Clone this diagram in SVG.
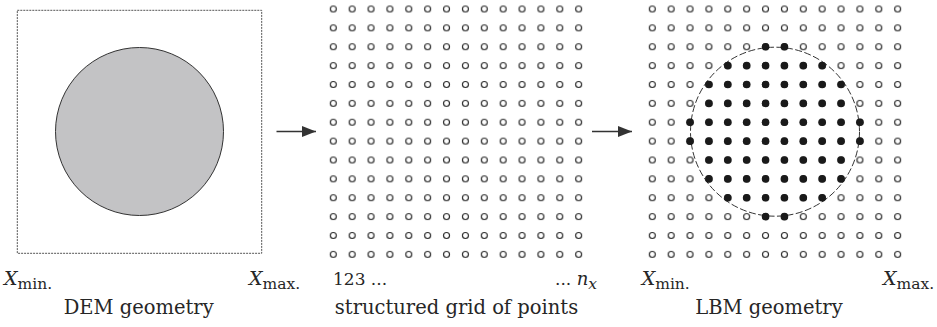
<svg xmlns="http://www.w3.org/2000/svg" width="937" height="327" viewBox="0 0 937 327">
  <style>
    .lbl { font-family: "DejaVu Serif", "Liberation Serif", serif; fill: #262626; }
    .cap { font-size: 19.5px; text-anchor: middle; }
    .sym { font-size: 19px; }
    .sub { font-size: 15.5px; }
    .it { font-style: italic; }
    .box { fill: none; stroke: #555; stroke-width: 1; stroke-dasharray: 2 1; }
    .solid { fill: #c3c3c5; stroke: #333; stroke-width: 1; }
    .bound { fill: none; stroke: #333; stroke-width: 1; stroke-dasharray: 7 2.5; }
    .full { fill: #1a1a1a; }
    .link { stroke: #333; stroke-width: 1.4; fill: none; }
  </style>
  <defs>
    <!-- one lattice cell: an open node at its centre -->
    <pattern id="lattice" patternUnits="userSpaceOnUse" x="0" y="0" width="18.875" height="18.875">
      <circle cx="9.4375" cy="9.4375" r="3" fill="#fff" stroke="#2a2a2a" stroke-width="1.15"/>
    </pattern>
    <marker id="head" markerWidth="15" markerHeight="12" refX="14" refY="6" orient="auto" markerUnits="userSpaceOnUse">
      <path d="M0,0.5 L14,6 L0,11.5 Z" fill="#333"/>
    </marker>
    <circle id="fd" r="3.8" class="full"/>
  </defs>

  <!-- DEM geometry: domain box with the particle -->
  <g id="dem">
    <rect class="box" x="17.3" y="10.3" width="244.4" height="243"/>
    <circle class="solid" cx="139.5" cy="131.5" r="84"/>
    <text class="lbl sym" x="4" y="285"><tspan class="it">X</tspan><tspan class="sub" dy="4">min.</tspan></text>
    <text class="lbl sym" x="249" y="285"><tspan class="it">X</tspan><tspan class="sub" dy="4">max.</tspan></text>
    <text class="lbl cap" x="138.7" y="314">DEM geometry</text>
  </g>

  <!-- structured grid: 14 x 14 lattice nodes -->
  <g id="grid">
    <g transform="translate(323.86,-0.44)">
      <rect width="264.25" height="264.25" fill="url(#lattice)"/>
    </g>
    <text class="lbl" x="333" y="285" font-size="17">123 ...</text>
    <text class="lbl" x="597" y="285" text-anchor="end" font-size="17">... <tspan class="it" font-size="18">n</tspan><tspan class="sub it" dy="4">x</tspan></text>
    <text class="lbl cap" x="456.5" y="314">structured grid of points</text>
  </g>

  <!-- LBM geometry: lattice with solid nodes inside the particle boundary -->
  <g id="lbm">
    <g transform="translate(642.86,-0.44)">
      <rect width="264.25" height="264.25" fill="url(#lattice)"/>
    </g>
    <circle class="bound" cx="775" cy="131.7" r="84.5"/>
    <g transform="translate(652.3,9)">
      <!-- row 2 -->
      <use href="#fd" x="113.25" y="37.75"/><use href="#fd" x="132.125" y="37.75"/>
      <!-- row 3 -->
      <use href="#fd" x="75.5" y="56.625"/><use href="#fd" x="94.375" y="56.625"/><use href="#fd" x="113.25" y="56.625"/><use href="#fd" x="132.125" y="56.625"/><use href="#fd" x="151" y="56.625"/><use href="#fd" x="169.875" y="56.625"/>
      <!-- row 4 -->
      <use href="#fd" x="56.625" y="75.5"/><use href="#fd" x="75.5" y="75.5"/><use href="#fd" x="94.375" y="75.5"/><use href="#fd" x="113.25" y="75.5"/><use href="#fd" x="132.125" y="75.5"/><use href="#fd" x="151" y="75.5"/><use href="#fd" x="169.875" y="75.5"/><use href="#fd" x="188.75" y="75.5"/>
      <!-- row 5 -->
      <use href="#fd" x="56.625" y="94.375"/><use href="#fd" x="75.5" y="94.375"/><use href="#fd" x="94.375" y="94.375"/><use href="#fd" x="113.25" y="94.375"/><use href="#fd" x="132.125" y="94.375"/><use href="#fd" x="151" y="94.375"/><use href="#fd" x="169.875" y="94.375"/><use href="#fd" x="188.75" y="94.375"/>
      <!-- row 6 -->
      <use href="#fd" x="37.75" y="113.25"/><use href="#fd" x="56.625" y="113.25"/><use href="#fd" x="75.5" y="113.25"/><use href="#fd" x="94.375" y="113.25"/><use href="#fd" x="113.25" y="113.25"/><use href="#fd" x="132.125" y="113.25"/><use href="#fd" x="151" y="113.25"/><use href="#fd" x="169.875" y="113.25"/><use href="#fd" x="188.75" y="113.25"/><use href="#fd" x="207.625" y="113.25"/>
      <!-- row 7 -->
      <use href="#fd" x="37.75" y="132.125"/><use href="#fd" x="56.625" y="132.125"/><use href="#fd" x="75.5" y="132.125"/><use href="#fd" x="94.375" y="132.125"/><use href="#fd" x="113.25" y="132.125"/><use href="#fd" x="132.125" y="132.125"/><use href="#fd" x="151" y="132.125"/><use href="#fd" x="169.875" y="132.125"/><use href="#fd" x="188.75" y="132.125"/><use href="#fd" x="207.625" y="132.125"/>
      <!-- row 8 -->
      <use href="#fd" x="56.625" y="151"/><use href="#fd" x="75.5" y="151"/><use href="#fd" x="94.375" y="151"/><use href="#fd" x="113.25" y="151"/><use href="#fd" x="132.125" y="151"/><use href="#fd" x="151" y="151"/><use href="#fd" x="169.875" y="151"/><use href="#fd" x="188.75" y="151"/>
      <!-- row 9 -->
      <use href="#fd" x="56.625" y="169.875"/><use href="#fd" x="75.5" y="169.875"/><use href="#fd" x="94.375" y="169.875"/><use href="#fd" x="113.25" y="169.875"/><use href="#fd" x="132.125" y="169.875"/><use href="#fd" x="151" y="169.875"/><use href="#fd" x="169.875" y="169.875"/><use href="#fd" x="188.75" y="169.875"/>
      <!-- row 10 -->
      <use href="#fd" x="75.5" y="188.75"/><use href="#fd" x="94.375" y="188.75"/><use href="#fd" x="113.25" y="188.75"/><use href="#fd" x="132.125" y="188.75"/><use href="#fd" x="151" y="188.75"/><use href="#fd" x="169.875" y="188.75"/>
      <!-- row 11 -->
      <use href="#fd" x="113.25" y="207.625"/><use href="#fd" x="132.125" y="207.625"/>
    </g>
    <text class="lbl sym" x="641.7" y="285"><tspan class="it">X</tspan><tspan class="sub" dy="4">min.</tspan></text>
    <text class="lbl sym" x="883" y="285"><tspan class="it">X</tspan><tspan class="sub" dy="4">max.</tspan></text>
    <text class="lbl cap" x="769" y="314">LBM geometry</text>
  </g>

  <!-- connectors between the stages -->
  <g id="connectors">
    <line class="link" x1="276.5" y1="131.5" x2="316" y2="131.5" marker-end="url(#head)"/>
    <line class="link" x1="592" y1="131.5" x2="632" y2="131.5" marker-end="url(#head)"/>
  </g>
</svg>
